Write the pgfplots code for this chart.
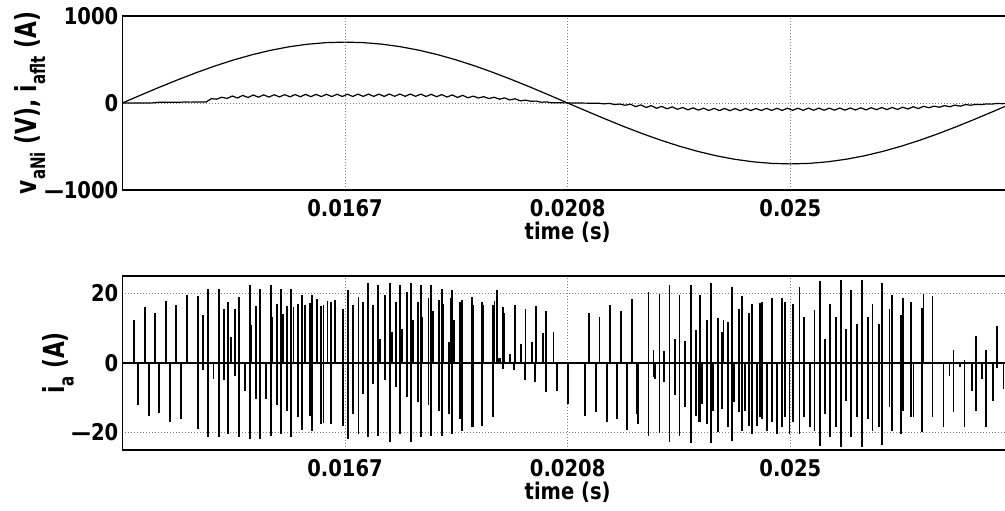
\documentclass[border=0pt]{standalone}
\usepackage{fontspec}
\setmainfont{DejaVu Sans}[FakeStretch=0.85]
\newfontfamily\labelfont{DejaVu Sans}[FakeStretch=0.75]
\newcommand\sub[1]{\raisebox{-0.3em}{\fontsize{10}{10}\selectfont #1}}
\usepackage{pgfplots}
\pgfplotsset{compat=1.18}
\pgfplotsset{
  myax/.style={
    scale only axis, width=445.35pt, height=87pt,
    xmin=12.5, xmax=29.1667,
    xtick={16.6667,20.8333,25}, xticklabels={0.0167,0.0208,0.025},
    grid=major,
    major grid style={gray, dash pattern=on 0.5pt off 1pt, line width=0.4pt},
    axis line style={line width=0.75pt},
    tick style={draw=none},
    ticklabel style={font=\fontsize{11.5}{13}\selectfont\bfseries},
    xticklabel style={yshift=-1.2pt},
    yticklabel style={xshift=1.5pt},
    xlabel={time (s)},
    xlabel style={font=\fontsize{11.5}{13}\selectfont\bfseries, at={(axis description cs:0.5,-0.145)}, anchor=north},
    ylabel style={font=\fontsize{14.5}{16}\labelfont\bfseries},
  }
}
\begin{document}
\begin{tikzpicture}
\begin{axis}[myax, at={(61.15pt,-95pt)}, anchor=south west,
  ymin=-1000, ymax=1000, ytick={-1000,0,1000}, yticklabels={—1000,0,1000},
  ylabel={v\sub{aNi} (V), i\sub{aflt} (A)},
  ylabel style={at={(axis description cs:-0.0785,0.5)}, anchor=south}]
\addplot[black, line width=0.6pt] coordinates {
(12.5,0)(12.847,91.4)(13.194,181.2)(13.542,267.9)(13.889,350)(14.236,426.1)(14.583,495.0)(14.931,555.3)(15.278,606.2)(15.625,646.7)(15.972,676.2)(16.319,694.0)(16.667,700)(17.014,694.0)(17.361,676.2)(17.708,646.7)(18.056,606.2)(18.403,555.3)(18.75,495.0)(19.097,426.1)(19.444,350)(19.792,267.9)(20.139,181.2)(20.486,91.4)(20.833,0)(21.181,-91.4)(21.528,-181.2)(21.875,-267.9)(22.222,-350)(22.569,-426.1)(22.917,-495.0)(23.264,-555.3)(23.611,-606.2)(23.958,-646.7)(24.306,-676.2)(24.653,-694.0)(25.0,-700)(25.347,-694.0)(25.694,-676.2)(26.042,-646.7)(26.389,-606.2)(26.736,-555.3)(27.083,-495.0)(27.431,-426.1)(27.778,-350)(28.125,-267.9)(28.472,-181.2)(28.819,-91.4)(29.167,0)};
\addplot[black, line width=0.6pt] coordinates {
(12.5,0)(12.598,0)(12.696,0)(12.794,0)(12.892,0)(12.99,0)(13.088,2)(13.186,8)(13.284,8)(13.382,9)(13.48,9)(13.578,9)(13.676,12)(13.774,10)(13.872,12)(13.97,12)(14.068,12)(14.166,50)(14.264,44)(14.362,66)(14.46,53)(14.558,80)(14.656,58)(14.754,87)(14.852,63)(14.95,92)(15.048,67)(15.146,94)(15.244,68)(15.342,95)(15.44,70)(15.538,96)(15.636,71)(15.734,97)(15.832,72)(15.93,99)(16.028,73)(16.126,99)(16.224,74)(16.322,100)(16.42,74)(16.518,101)(16.616,75)(16.714,101)(16.812,75)(16.91,102)(17.008,76)(17.106,102)(17.204,76)(17.302,102)(17.4,76)(17.498,103)(17.596,77)(17.694,103)(17.792,77)(17.89,103)(17.988,77)(18.086,102)(18.184,75)(18.282,100)(18.38,72)(18.478,97)(18.576,69)(18.674,93)(18.772,64)(18.87,88)(18.968,60)(19.066,79)(19.164,58)(19.262,73)(19.36,51)(19.458,66)(19.556,44)(19.654,58)(19.752,35)(19.85,48)(19.948,25)(20.046,33)(20.144,20)(20.242,22)(20.34,9)(20.438,13)(20.536,2)(20.634,3)(20.732,2)(20.83,1)(20.928,0)(21.026,0)(21.124,-1)(21.222,-2)(21.32,-3)(21.418,-3)(21.516,-10)(21.614,-4)(21.712,-18)(21.81,-12)(21.908,-26)(22.006,-13)(22.104,-42)(22.202,-22)(22.3,-51)(22.398,-31)(22.496,-60)(22.594,-39)(22.692,-66)(22.79,-45)(22.888,-72)(22.986,-52)(23.084,-78)(23.182,-56)(23.28,-82)(23.378,-60)(23.476,-86)(23.574,-62)(23.672,-87)(23.77,-63)(23.868,-88)(23.966,-64)(24.064,-88)(24.162,-63)(24.26,-87)(24.358,-63)(24.456,-86)(24.554,-62)(24.652,-85)(24.75,-61)(24.848,-85)(24.946,-60)(25.044,-84)(25.142,-60)(25.24,-84)(25.338,-59)(25.436,-83)(25.534,-59)(25.632,-83)(25.73,-59)(25.828,-82)(25.926,-58)(26.024,-82)(26.122,-57)(26.22,-80)(26.318,-55)(26.416,-79)(26.514,-54)(26.612,-77)(26.71,-52)(26.808,-76)(26.906,-51)(27.004,-74)(27.102,-48)(27.2,-69)(27.298,-43)(27.396,-64)(27.494,-38)(27.592,-55)(27.69,-36)(27.788,-49)(27.886,-30)(27.984,-43)(28.082,-24)(28.18,-37)(28.278,-18)(28.376,-25)(28.474,-16)(28.572,-19)(28.67,-10)(28.768,-13)(28.866,-5)(28.964,-8)(29.062,-1)(29.16,0)};
\end{axis}
\begin{axis}[myax, at={(61.15pt,-225pt)}, anchor=south west,
  ymin=-25, ymax=25, ytick={-20,0,20}, yticklabels={—20,0,20},
  ylabel={i\sub{a} (A)},
  ylabel style={at={(axis description cs:-0.0464,0.5)}, anchor=south}]
\addplot[black, line width=0.7pt] coordinates {(12.5,0)(29.1667,0)};
\addplot[black, line width=0.85pt, ycomb] coordinates {
(12.725,12.3)(12.788,-12.2)(12.925,16)(13.0,-15.3)(13.112,14.4)(13.187,-14.4)(13.318,17.9)(13.393,-17)(13.505,16.8)(13.598,-16.2)(13.705,19.5)(13.91,19.2)(13.91,-18.9)(14.004,13.8)(14.004,-2)(14.11,21.3)(14.11,-21.2)(14.204,-4.5)(14.31,21.3)(14.31,-21.2)(14.403,15.4)(14.403,-5)(14.484,17.6)(14.484,-20.4)(14.528,7.5)(14.609,15.4)(14.609,-3.6)(14.69,19)(14.69,-21.3)(14.796,-7.9)(14.89,22.4)(14.89,-21.8)(14.908,10.9)(15.002,16.3)(15.002,-10.3)(15.077,21.4)(15.077,-21.8)(15.183,-10.3)(15.276,22.4)(15.276,-20.9)(15.295,13.3)(15.389,17.1)(15.389,-12.2)(15.47,21.4)(15.47,-20.4)(15.513,14.2)(15.576,16.3)(15.576,-13.7)(15.657,21.3)(15.657,-21.3)(15.701,16.2)(15.794,17.1)(15.794,-15.6)(15.857,19.5)(15.857,-19.2)(15.919,16.6)(16.013,17.3)(16.013,-15.3)(16.056,19.5)(16.056,-19.4)(16.137,18.3)(16.218,16.3)(16.218,-17.5)(16.262,16.6)(16.262,-17.2)(16.337,17.9)(16.405,17.6)(16.405,-17.5)(16.48,18)(16.624,15.4)(16.624,-18)(16.717,21)(16.717,-21.8)(16.823,16.6)(16.823,-14.6)(16.917,19)(16.917,-20.4)(17.01,17.6)(17.01,-8.8)(17.104,22.9)(17.104,-21.3)(17.197,16.6)(17.197,-6)(17.291,22.4)(17.291,-20.9)(17.322,7)(17.416,19.5)(17.416,-5)(17.509,22.9)(17.509,-22.8)(17.541,8.9)(17.622,17.6)(17.622,-6.9)(17.697,22.4)(17.697,-20.4)(17.74,9.9)(17.821,20.5)(17.821,-9.8)(17.896,23)(17.896,-22.8)(17.934,12.3)(18.027,17.6)(18.027,-11.2)
(18.084,22.4)(18.084,-21.3)(18.115,13.3)(18.227,18.6)(18.227,-12.2)(18.277,22.4)(18.277,-20.9)(18.308,14.9)(18.427,18)(18.427,-13.7)(18.477,21.4)(18.477,-20.9)(18.508,17.1)(18.614,6)(18.614,-14.6)(18.645,18.6)(18.664,21)(18.664,-20.4)(18.708,12.3)(18.82,17.6)(18.82,-16)(18.851,18)(18.851,-19.4)(19.038,19)(19.038,-18.5)(19.069,16.6)(19.069,-18.5)(19.225,17.6)(19.225,-18)(19.256,16.6)(19.431,16.6)(19.431,-15.6)(19.462,17.9)(19.506,21)(19.537,1.3)(19.568,1.5)(19.618,16)(19.618,-1.6)(19.643,14.4)(19.755,2.7)(19.83,-2.1)(19.849,16.8)(19.955,5.4)(20.03,-5)(20.042,15.5)(20.161,5.9)(20.223,-5.5)(20.236,16.4)(20.367,8.7)(20.423,-8.4)(20.429,15)(20.566,8.9)(20.629,-8.1)(20.835,-11.7)(21.159,-15.1)(21.234,14.4)(21.365,-14.1)(21.427,13.3)(21.564,-17)(21.627,16.7)(21.751,-16)(21.826,15)(21.939,-19.2)(22.032,18.3)(22.126,-14.6)(22.144,-17.5)(22.344,20.5)(22.344,-20.9)(22.438,3.7)(22.438,-4)(22.469,-4.6)(22.55,19.8)(22.55,-20.2)(22.637,3.4)(22.637,-5.5)(22.737,22.4)(22.737,-22.8)(22.843,7)(22.843,-9.3)(22.924,19.5)(22.924,-20.9)(23.03,6.3)(23.03,-12.7)(23.136,22.4)(23.136,-23)(23.23,9.6)(23.23,-15.1)(23.28,-17)
(23.31,19.5)(23.31,-17)(23.341,-11.7)(23.447,12.3)(23.447,-17.5)(23.516,22.9)(23.516,-23)(23.547,-13.7)(23.641,12.8)(23.641,-19.9)(23.715,8.9)(23.715,-13.2)(23.747,12.3)(23.84,11.8)(23.84,-18.5)(23.903,21.9)(23.903,-22.3)(23.952,-11.2)(24.04,15.4)(24.04,-14.1)(24.09,19.2)(24.09,-19.4)(24.152,-13.7)(24.233,14.4)(24.233,-18)(24.289,17.1)(24.289,-20.4)(24.37,-18)(24.433,17.3)(24.433,-15.6)(24.476,17.6)(24.476,-16)(24.558,-19.4)(24.651,18.6)(24.651,-17)(24.745,-20.4)(24.838,18.8)(24.838,-18.5)(24.901,17.6)(24.901,-15.6)(24.982,-20.4)(25.044,17.1)(25.044,-17)(25.169,21.9)(25.169,-20.4)(25.256,13.3)(25.256,-15.6)(25.368,-18.5)(25.45,15.2)(25.45,-19.4)(25.556,23.6)(25.556,-23.8)(25.649,7)(25.649,-14.6)(25.743,17.1)(25.743,-21.3)(25.849,13.3)(25.849,-18.5)(25.942,23.8)(25.942,-24.2)(26.036,9.9)(26.036,-10.8)(26.136,21)(26.136,-21.3)(26.242,11.3)(26.242,-15.6)(26.335,23.8)(26.335,-24.2)(26.448,13.3)(26.448,-16)(26.535,17.1)(26.535,-19.4)(26.66,11.3)(26.66,-18.5)(26.71,22.9)(26.71,-23.5)(26.853,15.4)(26.853,-12.7)(26.897,19.5)(26.897,-19.4)(27.071,13.8)(27.071,-20.4)(27.103,18.6)(27.103,-13.7)(27.252,17.6)(27.252,-15.6)(27.302,-15.6)(27.458,15.7)(27.458,-19.9)(27.489,19.8)(27.658,19.2)(27.658,-15.6)(27.864,-18.5)(27.976,-3.6)(28.051,3.7)(28.051,-14.1)(28.175,-1.2)(28.257,0.8)(28.257,-18.5)(28.394,-7.9)(28.469,7.7)(28.469,-13.7)(28.581,-4.5)(28.662,3.8)(28.662,-18.3)(28.787,-10.8)(28.862,10.6)(28.862,-1.3)(28.986,-7.4)};
\end{axis}
\pgfresetboundingbox
\useasboundingbox (0pt,0pt) rectangle (502.5pt,-255pt);
\end{tikzpicture}
\end{document}
